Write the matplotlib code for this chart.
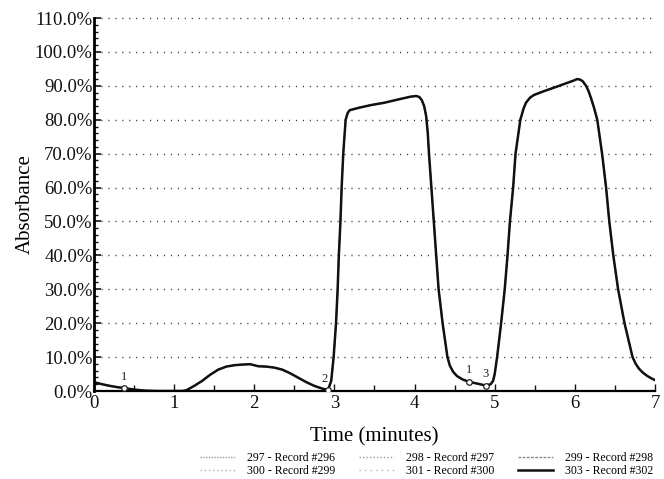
import matplotlib
matplotlib.use("Agg")
import matplotlib.pyplot as plt
from matplotlib.ticker import FuncFormatter, MultipleLocator

plt.rcParams['font.family'] = ['Liberation Serif', 'DejaVu Serif']

# Absorbance trace (percent) against time (minutes)
time_min = [0.00, 0.10, 0.20, 0.30, 0.37, 0.45, 0.55, 0.65, 0.80, 1.00, 1.10,
            1.15, 1.25, 1.35, 1.45, 1.55, 1.65, 1.75, 1.85, 1.95, 2.00, 2.05,
            2.15, 2.25, 2.35, 2.45, 2.55, 2.65, 2.75, 2.85, 2.92, 2.96, 2.99,
            3.02, 3.04, 3.055, 3.075, 3.09, 3.11, 3.14, 3.165, 3.19, 3.30,
            3.45, 3.62, 3.80, 3.95, 4.02, 4.06, 4.09, 4.12, 4.145, 4.165, 4.18,
            4.21, 4.24, 4.27, 4.30, 4.35, 4.38, 4.41, 4.44, 4.48, 4.53, 4.60,
            4.68, 4.78, 4.89, 4.95, 4.98, 5.00, 5.03, 5.08, 5.125, 5.16, 5.19,
            5.23, 5.26, 5.32, 5.36, 5.39, 5.44, 5.49, 5.60, 5.78, 5.92, 5.98,
            6.03, 6.07, 6.10, 6.14, 6.17, 6.20, 6.24, 6.28, 6.34, 6.39, 6.43,
            6.48, 6.54, 6.62, 6.72, 6.76, 6.80, 6.85, 6.90, 6.95, 7.00]
absorbance = [2.6, 2.0, 1.5, 1.1, 0.9, 0.6, 0.3, 0.1, 0.0, 0.0, 0.0,
              0.2, 1.5, 3.0, 4.8, 6.3, 7.2, 7.6, 7.8, 7.9, 7.6, 7.3,
              7.2, 6.9, 6.3, 5.2, 3.9, 2.6, 1.5, 0.7, 0.3, 3.0, 10.0,
              20.0, 30.0, 40.0, 50.0, 60.0, 70.0, 80.0, 82.0, 82.8, 83.5,
              84.3, 85.0, 86.0, 86.8, 87.0, 86.7, 85.8, 84.0, 81.0, 76.0, 70.0,
              60.0, 50.0, 40.0, 30.0, 20.0, 15.0, 10.0, 7.5, 5.7, 4.4, 3.4,
              2.7, 2.2, 1.6, 2.0, 3.0, 5.0, 10.0, 20.0, 30.0, 40.0, 50.0,
              60.0, 70.0, 80.0, 83.3, 85.0, 86.5, 87.3, 88.3, 89.8, 91.0, 91.5,
              92.0, 91.8, 91.3, 90.0, 88.5, 86.5, 83.5, 80.0, 70.0, 60.0, 50.0,
              40.0, 30.0, 20.0, 10.0, 8.0, 6.6, 5.4, 4.5, 3.8, 3.2]

# Overlaid records and how each is drawn
record_labels = ["297 - Record #296", "298 - Record #297", "299 - Record #298",
                 "300 - Record #299", "301 - Record #300", "303 - Record #302"]

# Numbered event markers on the trace
event_times = [0.37, 2.92, 4.68, 4.89]
event_values = [0.9, 0.3, 2.7, 1.6]
event_names = ["1", "2", "1", "3"]

y_ticks = list(range(0, 111, 10))
x_ticks = list(range(0, 8))

fig = plt.figure(figsize=(6.64, 4.79), dpi=100)
ax = fig.add_axes([0.1416, 0.1837, 0.8448, 0.7787])

styles = [
    dict(color="#9a9a9a", lw=1.0, ls=(0, (1, 1))),
    dict(color="#9a9a9a", lw=1.0, ls=(0, (1, 1.5))),
    dict(color="#8a8a8a", lw=1.0, ls=(0, (2, 1))),
    dict(color="#b0b0b0", lw=1.0, ls=(0, (1, 2))),
    dict(color="#b0b0b0", lw=1.0, ls=(0, (1, 3))),
    dict(color="#111111", lw=1.8, ls="-"),
]
handles = []
for lab, st in zip(record_labels, styles):
    h, = ax.plot(time_min, absorbance, label=lab, solid_joinstyle="round",
                 **st)
    handles.append(h)

# event markers with their numbers
ax.plot(event_times, event_values, ls="none", marker="o", ms=4,
        mfc="white", mec="#222222", mew=0.9, zorder=5)
for t, v, n in zip(event_times, event_values, event_names):
    ax.text(t - (0.04 if n == "2" else 0.0), v + 1.6, n, ha="center",
            va="bottom", fontsize=9, color="#222222")

ax.set_xlim(0, 7)
ax.set_ylim(0, 110)
ax.set_xticks(x_ticks)
ax.set_yticks(y_ticks)
ax.xaxis.set_minor_locator(MultipleLocator(0.5))
ax.yaxis.set_minor_locator(MultipleLocator(2))
ax.yaxis.set_major_formatter(FuncFormatter(lambda v, p: f"{v:.1f}%"))

# dotted horizontal grid
for yv in y_ticks[1:]:
    ax.axhline(yv, color="#333333", lw=1.0, ls=(0, (0.8, 4.2)),
               zorder=0, clip_on=False)

for side in ("top", "right"):
    ax.spines[side].set_visible(False)
ax.spines["left"].set_linewidth(2.0)
ax.spines["bottom"].set_linewidth(1.6)

ax.tick_params(axis="both", which="both", direction="in", colors="#111111",
               labelsize=13.5)
ax.tick_params(axis="y", which="major", length=5, width=1.2, pad=1)
ax.tick_params(axis="y", which="minor", length=3, width=1.0)
ax.tick_params(axis="x", which="major", length=5, width=1.0, pad=3)
ax.tick_params(axis="x", which="minor", length=4, width=1.0)

ax.set_xlabel("Time (minutes)", fontsize=15, labelpad=11)
ax.set_ylabel("Absorbance", fontsize=15, labelpad=0)

order = [0, 3, 1, 4, 2, 5]
fig.legend([handles[i] for i in order], [record_labels[i] for i in order],
           loc="lower right", bbox_to_anchor=(1.0, -0.018), ncol=3,
           frameon=False, fontsize=8.5, handlelength=3.0, handletextpad=1.0,
           columnspacing=2.0, labelspacing=0.1)

fig.savefig("out.png", dpi=100)
